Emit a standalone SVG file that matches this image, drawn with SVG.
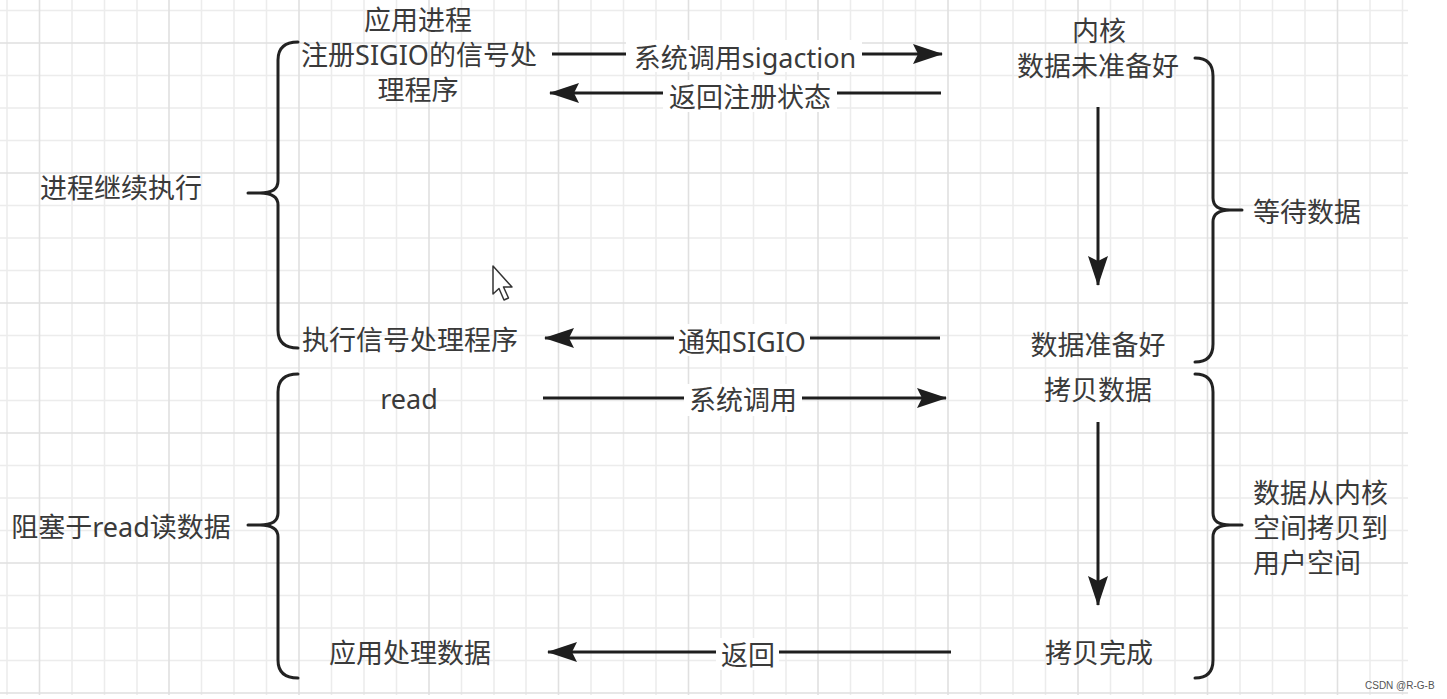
<svg xmlns="http://www.w3.org/2000/svg" width="1447" height="699" viewBox="0 0 1447 699">
<style>
.minor{stroke:#ececec;stroke-width:1.5;fill:none}
.major{stroke:#e0e0e0;stroke-width:1.6;fill:none}
.t{font-family:"Noto Sans","Noto Sans CJK SC",sans-serif;font-size:27px;fill:#3a3a3a}
.c{text-anchor:middle}
.edge{stroke:#1e1e1e;stroke-width:3;fill:none}
.brace{stroke:#222;stroke-width:3;fill:none;stroke-linecap:round;stroke-linejoin:round}
.lbg{fill:#fff}
</style>
<defs>
<marker id="ah" viewBox="0 0 30 20" markerWidth="30" markerHeight="20" refX="29" refY="10" orient="auto" markerUnits="userSpaceOnUse">
<path d="M0,0 L30,10 L0,20 L5,10 Z" fill="#1e1e1e"/>
</marker>
</defs>
<rect width="1447" height="699" fill="#fff"/>
<g id="grid">
<path class="minor" d="M7,0V695M72,0V695M104.5,0V695M137,0V695M201.5,0V695M234,0V695M266.5,0V695M331.5,0V695M364,0V695M396.5,0V695M461.5,0V695M494,0V695M526,0V695M591,0V695M623.5,0V695M656,0V695M721,0V695M753.5,0V695M786,0V695M850.5,0V695M883,0V695M915.5,0V695M980.5,0V695M1013,0V695M1045.5,0V695M1110.5,0V695M1143,0V695M1175,0V695M1240,0V695M1272.5,0V695M1305,0V695M1370,0V695M1402.5,0V695"/>
<path class="minor" d="M0,10.5H1408M0,75.5H1408M0,108H1408M0,140.5H1408M0,205.5H1408M0,238H1408M0,270.5H1408M0,335.5H1408M0,368H1408M0,400.5H1408M0,465.5H1408M0,498H1408M0,530.5H1408M0,595.5H1408M0,628H1408M0,660.5H1408"/>
<path class="major" d="M39.5,0V695M169,0V695M299,0V695M429,0V695M558.5,0V695M688.5,0V695M818,0V695M948,0V695M1078,0V695M1207.5,0V695M1337.5,0V695"/>
<path class="major" d="M0,43H1408M0,173H1408M0,303H1408M0,433H1408M0,563H1408M0,693H1408"/>
</g>
<g id="connectors">
<line class="edge" x1="552" y1="54" x2="942" y2="54" marker-end="url(#ah)"/>
<line class="edge" x1="941" y1="93" x2="550" y2="93" marker-end="url(#ah)"/>
<line class="edge" x1="940" y1="338" x2="545" y2="338" marker-end="url(#ah)"/>
<line class="edge" x1="543" y1="398" x2="946" y2="398" marker-end="url(#ah)"/>
<line class="edge" x1="951" y1="652" x2="548" y2="652" marker-end="url(#ah)"/>
<line class="edge" x1="1098" y1="107" x2="1098" y2="285" marker-end="url(#ah)"/>
<line class="edge" x1="1098" y1="422" x2="1098" y2="605" marker-end="url(#ah)"/>
<rect class="lbg" x="626" y="40" width="236" height="32"/>
<text class="t c" x="745" y="68">系统调用sigaction</text>
<rect class="lbg" x="663" y="80" width="174" height="32"/>
<text class="t c" x="750" y="107">返回注册状态</text>
<rect class="lbg" x="674" y="324" width="136" height="32"/>
<text class="t c" x="742" y="352">通知SIGIO</text>
<rect class="lbg" x="684" y="384" width="118" height="32"/>
<text class="t c" x="743" y="410">系统调用</text>
<rect class="lbg" x="716" y="638" width="63" height="32"/>
<text class="t c" x="748" y="665">返回</text>
</g>
<g id="brace-left-1"><path class="brace" d="M298,42 Q278,42 278,60 L278,181 Q278,193 260,193 L248,193 L260,193 Q278,193 278,205 L278,330 Q278,348 298,348"/></g>
<g id="brace-left-2"><path class="brace" d="M298,374 Q278,374 278,392 L278,513 Q278,525 260,525 L248,525 L260,525 Q278,525 278,537 L278,660 Q278,678 298,678"/></g>
<g id="brace-right-1"><path class="brace" d="M1195,58 Q1213,58 1213,76 L1213,198 Q1213,210 1230,210 L1242,210 L1230,210 Q1213,210 1213,222 L1213,344 Q1213,362 1195,362"/></g>
<g id="brace-right-2"><path class="brace" d="M1195,374 Q1213,374 1213,392 L1213,513 Q1213,525 1230,525 L1242,525 L1230,525 Q1213,525 1213,537 L1213,660 Q1213,678 1195,678"/></g>
<g id="app-register"><text class="t c" x="418" y="30">应用进程</text><text class="t c" x="419" y="65">注册SIGIO的信号处</text><text class="t c" x="418" y="100">理程序</text></g>
<g id="proc-continue"><text class="t c" x="121" y="198">进程继续执行</text></g>
<g id="exec-handler"><text class="t c" x="410" y="350">执行信号处理程序</text></g>
<g id="read"><text class="t c" x="409" y="409">read</text></g>
<g id="blocked-read"><text class="t c" x="121" y="537">阻塞于read读数据</text></g>
<g id="app-process"><text class="t c" x="410" y="663">应用处理数据</text></g>
<g id="kernel-notready"><text class="t c" x="1099" y="41">内核</text><text class="t c" x="1098" y="76">数据未准备好</text></g>
<g id="wait-data"><text class="t" x="1253" y="222">等待数据</text></g>
<g id="data-ready"><text class="t c" x="1098" y="355">数据准备好</text></g>
<g id="copy-data"><text class="t c" x="1098" y="400">拷贝数据</text></g>
<g id="copy-done"><text class="t c" x="1099" y="663">拷贝完成</text></g>
<g id="copy-desc"><text class="t" x="1253" y="503">数据从内核</text><text class="t" x="1253" y="538">空间拷贝到</text><text class="t" x="1253" y="573">用户空间</text></g>
<g id="cursor"><path d="M493,266 L493,294 L499,288.5 L504,300 L508.5,298 L503.5,287 L512,287 Z" fill="#fff" stroke="#333" stroke-width="1.5" stroke-linejoin="round"/></g>
<g id="watermark"><text x="1365" y="689" font-family="Liberation Sans, sans-serif" font-size="10" fill="#555">CSDN @R-G-B</text></g>
</svg>
